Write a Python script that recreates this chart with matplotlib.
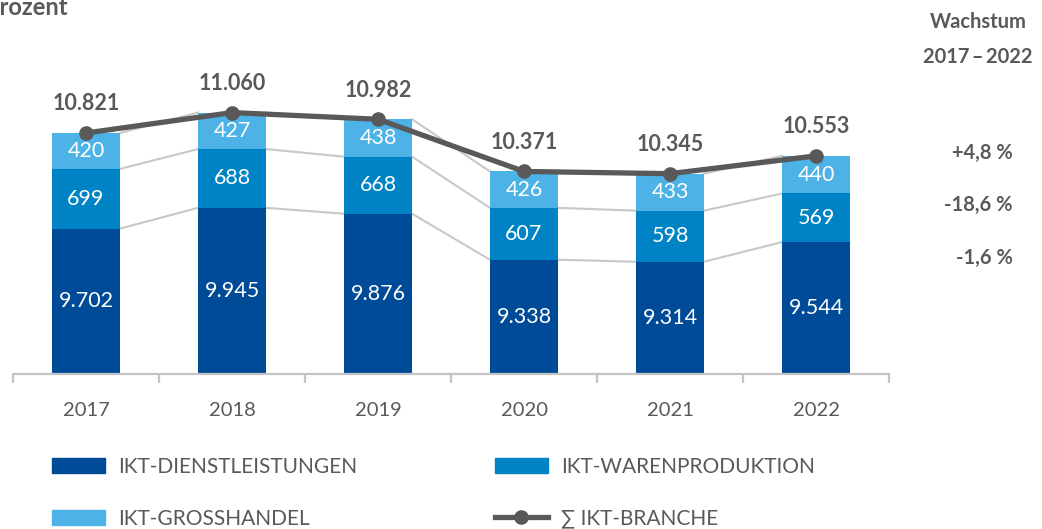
import matplotlib.pyplot as plt
from matplotlib.patches import Patch
from matplotlib.lines import Line2D
import numpy as np

plt.rcParams['font.family'] = ['Lato', 'DejaVu Sans']

years = ['2017', '2018', '2019', '2020', '2021', '2022']
dienst = [9702, 9945, 9876, 9338, 9314, 9544]
waren = [699, 688, 668, 607, 598, 569]
gross = [420, 427, 438, 426, 433, 440]
branche = [10821, 11060, 10982, 10371, 10345, 10553]
growth = ['+4,8 %', '-18,6 %', '-1,6 %']
labels = ['IKT-DIENSTLEISTUNGEN', 'IKT-WARENPRODUKTION', 'IKT-GROSSHANDEL', '\u2211 IKT-BRANCHE']

c_dienst = '#004b97'
c_waren = '#0083c4'
c_gross = '#4db2e6'
grey = '#595959'

W, H = 1042, 529
fig = plt.figure(figsize=(W / 100, H / 100), dpi=100)
ax = fig.add_axes([13 / W, 155 / H, 876 / W, 299 / H])

x = np.arange(len(years))
bw = 0.466
base = 8000
d = np.array(dienst)
w = np.array(waren)
g = np.array(gross)

ax.bar(x, d - base, bw, bottom=base, color=c_dienst, zorder=2)
ax.bar(x, w, bw, bottom=d, color=c_waren, zorder=2)
ax.bar(x, g, bw, bottom=d + w, color=c_gross, zorder=2)

# grey connectors between segment borders
for lvl in [d, d + w, d + w + g]:
    for i in range(len(x) - 1):
        ax.plot([x[i] + bw / 2, x[i + 1] - bw / 2], [lvl[i], lvl[i + 1]],
                color='#c8c8c8', lw=1.5, zorder=1)

ax.plot(x, branche, color=grey, lw=3.8, marker='o', ms=9.5, zorder=4,
        solid_capstyle='round')

for i in range(len(x)):
    ax.text(x[i], (base + d[i]) / 2, f'{dienst[i]:,}'.replace(',', '.'),
            ha='center', va='center', color='white', fontsize=15.5, zorder=3)
    ax.text(x[i], d[i] + w[i] / 2, str(waren[i]),
            ha='center', va='center', color='white', fontsize=15.5, zorder=3)
    ax.text(x[i], d[i] + w[i] + g[i] / 2, str(gross[i]),
            ha='center', va='center', color='white', fontsize=15.5, zorder=3)
    ax.annotate(f'{branche[i]:,}'.replace(',', '.'), (x[i], branche[i]),
                xytext=(0, 21), textcoords='offset points', ha='center', va='center',
                color=grey, fontsize=15.5, fontweight='bold')

ax.set_xlim(-0.5, 5.5)
ax.set_ylim(base, 11500)
for s in ['top', 'right', 'left']:
    ax.spines[s].set_visible(False)
ax.spines['bottom'].set_color('#c4c4c4')
ax.spines['bottom'].set_linewidth(1.6)
ax.set_yticks([])
ax.set_xticks(x)
ax.set_xticklabels(years, fontsize=14.5, color=grey)
ax.set_xticks(np.arange(-0.5, 6, 1), minor=True)
ax.tick_params(axis='x', which='major', length=0, pad=20)
ax.tick_params(axis='x', which='minor', length=6.5, width=1.6, color='#c4c4c4')

# header texts (the reference crops the first letter of "Prozent")
fig.text(-15 / W, 1 - 15 / H, 'Prozent', fontsize=17, fontweight='bold', color=grey,
         ha='left', va='baseline')
fig.text(978 / W, 1 - 22 / H, 'Wachstum', fontsize=14.5, fontweight='bold', color=grey,
         ha='center', va='center')
fig.text(978 / W, 1 - 57 / H, '2017\u2009\u2013\u20092022', fontsize=14.5, fontweight='bold',
         color=grey, ha='center', va='center')
for t, yy in zip(growth, [153, 205, 258]):
    fig.text(1013 / W, 1 - yy / H, t, fontsize=14.5, fontweight='bold', color=grey,
             ha='right', va='center')

handles = [Patch(color=c_dienst), Patch(color=c_gross), Patch(color=c_waren),
           Line2D([], [], color=grey, lw=3.8, marker='o', ms=9.5)]
leg_labels = [labels[0], labels[2], labels[1], labels[3]]
fig.legend(handles, leg_labels, ncol=2, loc='upper left', bbox_to_anchor=(52 / W, 1 - 457 / H),
           frameon=False, fontsize=15, handlelength=2.55, handleheight=0.72,
           handletextpad=0.63, labelspacing=1.52, columnspacing=6.6,
           borderpad=0, borderaxespad=0, labelcolor=grey)

fig.savefig('out.png', dpi=100)
